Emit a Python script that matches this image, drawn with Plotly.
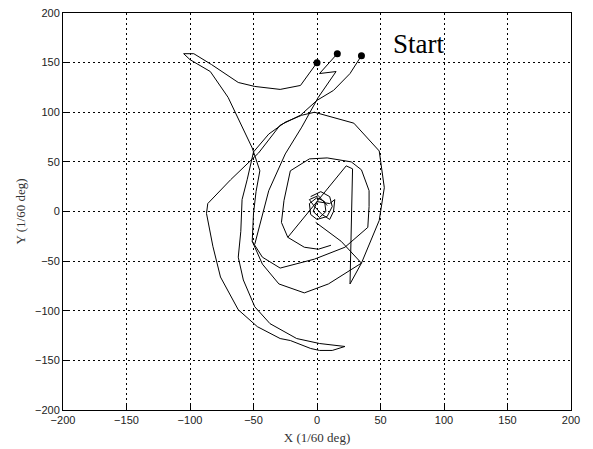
import plotly.graph_objects as go

# start points of the three eye-movement traces
start_x = [0, 16, 35]
start_y = [150, 159, 157]

# trace A: starts at (0,150), loops up-left, then spirals inward
a_x = [0, -13, -29, -49, -62, -83, -97, -105, -100, -84, -70, -58, -51, -45,
       -48, -50, -51, -43, -29, -2, 22, 40, 41, 41, 35, 27, 8, -6, -21, -26,
       -28, -23, -10, 1, 11]
a_y = [150, 127, 123, 126, 130, 148, 159, 159, 153, 141, 115, 82, 64, 41,
       20, -2, -30, -46, -57, -48, -36, -16, 5, 21, 42, 50, 54, 53, 41, 11,
       -11, -26, -36, -38, -34]

# trace B: starts at (35,157), long diagonal, outer crescent, outer spiral ring
b_x = [35, 26, 13, 0, -13, -29, -46, -68, -86, -87, -82, -76, -62, -47, -29,
       -21, -5, 2, 12, 22, 2, -16, -37, -49, -58, -62, -60, -59, -55, -50,
       -38, -25, -12, -2, 29, 49, 53, 49, 35, 9, -10, -30, -43, -51]
b_y = [157, 139, 122, 112, 97, 87, 59, 32, 8, -2, -35, -66, -99, -116, -128,
       -130, -138, -140, -140, -136, -133, -128, -113, -96, -69, -46, -20, 12,
       32, 60, 78, 90, 97, 100, 89, 61, 24, -9, -52, -73, -82, -73, -53, -30]

# trace C: starts at (16,159), small zigzag, steep line down-left
c_x = [16, 2, 15, 8, 1, -12, -25, -38, -49]
c_y = [159, 139, 141, 128, 115, 85, 58, 21, -33]

# centre segments and scribble
d_x = [23, 1, -23, None, 23, 28, 26, 35, None, -1, 19, 35, None,
       -5, 3, 10, 12, 8, 0, -5, -6, 0, 6, 7, 2, -3, 0, 10, 14, 13, 10, 4, -2, -6, 1, 8]
d_y = [46, 11, -26, None, 46, 43, -73, -52, None, -11, -30, -52, None,
       15, 20, 15, 5, -5, -8, -3, 8, 14, 10, 0, -6, 0, 10, 8, 12, 0, -8, -3, 5, 12, 16, 6]

ticks = [-200, -150, -100, -50, 0, 50, 100, 150, 200]

fig = go.Figure()
for xs, ys in [(a_x, a_y), (b_x, b_y), (c_x, c_y), (d_x, d_y)]:
    fig.add_trace(go.Scatter(x=xs, y=ys, mode="lines",
                             line=dict(color="black", width=1), connectgaps=False,
                             showlegend=False))

fig.add_trace(go.Scatter(x=start_x, y=start_y, mode="markers",
                         marker=dict(color="black", size=7), showlegend=False))

fig.add_annotation(x=80, y=169, text="Start", showarrow=False,
                   font=dict(family="Liberation Serif", size=27, color="black"))

axis_style = dict(
    range=[-200, 200], tickvals=ticks, showgrid=True, gridcolor="black",
    griddash="2px,3px", gridwidth=1, zeroline=False, showline=True,
    linecolor="black", linewidth=1, mirror=True, ticks="inside", ticklen=5,
    tickcolor="black", automargin=False, ticklabeloverflow="allow",
    tickfont=dict(family="Liberation Sans", size=11, color="#222"),
)

# page body has an 8px margin, so the figure is a bit smaller than the window
fig.update_layout(
    width=585, height=441,
    margin=dict(l=55, r=22, t=5, b=39),
    plot_bgcolor="white", paper_bgcolor="white",
    xaxis=dict(axis_style, title=dict(text="X (1/60 deg)", standoff=7,
               font=dict(family="Liberation Serif", size=13, color="#333"))),
    yaxis=dict(axis_style, title=dict(text="Y (1/60 deg)", standoff=6,
               font=dict(family="Liberation Serif", size=13, color="#333"))),
)

fig.write_html("out.html")
